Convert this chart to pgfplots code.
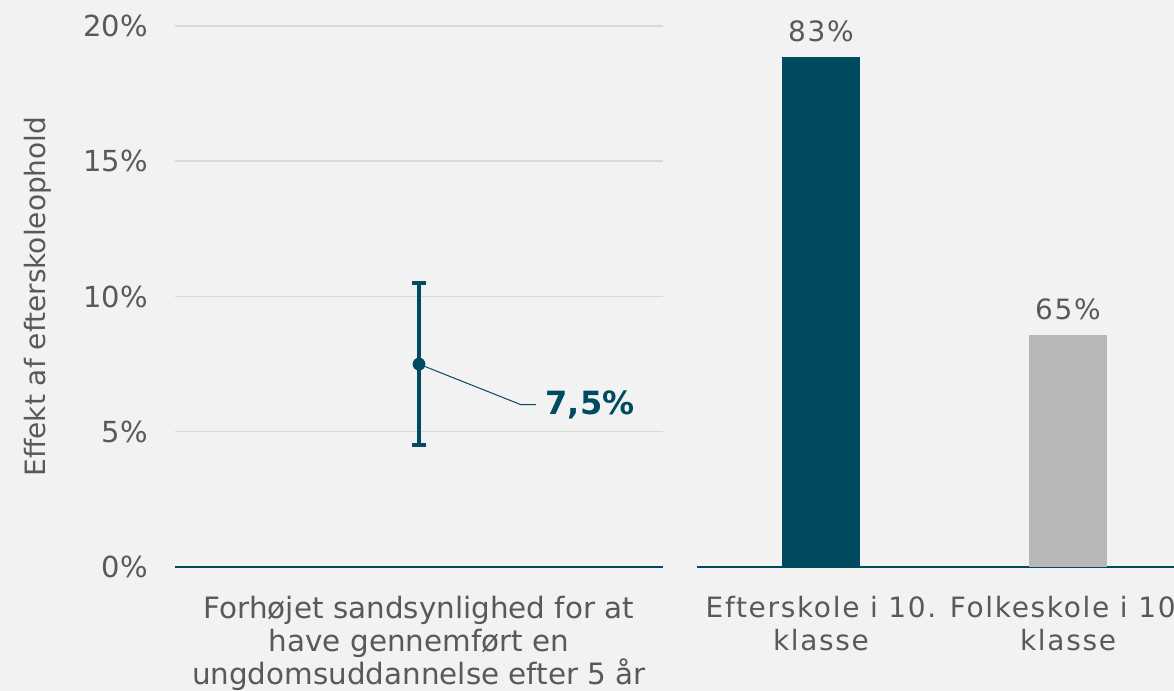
\documentclass[border=0pt]{standalone}
\usepackage{fontspec}
\setmainfont{DejaVu Sans}
\newfontfamily\widefont[LetterSpace=6]{DejaVu Sans}
\usepackage{pgfplots}
\pgfplotsset{compat=1.18}
\definecolor{bg}{HTML}{F2F2F2}
\definecolor{petrol}{HTML}{004B5F}
\definecolor{lgray}{HTML}{B8B8B8}
\definecolor{gridc}{HTML}{D9D9D9}
\definecolor{txt}{HTML}{595959}

\begin{document}
\begin{tikzpicture}
\fill[bg] (0,0) rectangle (587pt,345.5pt);
% left panel: effect with confidence interval
\begin{axis}[
  at={(87.5pt,62pt)}, anchor=south west, scale only axis,
  width=244pt, height=270.5pt,
  xmin=-1, xmax=1, ymin=0, ymax=20,
  axis x line*=bottom, axis y line*=left,
  x axis line style={petrol, line width=1pt, -},
  y axis line style={draw=none},
  major tick length=0pt,
  ymajorgrids, grid style={gridc, line width=0.75pt},
  ytick={0,5,10,15,20}, yticklabels={0\%,5\%,10\%,15\%,20\%},
  yticklabel style={font=\fontsize{14.5}{16}\selectfont, text=txt, xshift=-10pt},
  xtick={0},
  xticklabels={Forhøjet sandsynlighed for at\\have gennemført en\\ungdomsuddannelse efter 5 år},
  xticklabel style={align=center, font=\fontsize{14.7}{16.5}\selectfont, text=txt, yshift=-11pt},
  ylabel={Effekt af efterskoleophold},
  ylabel style={at={(axis description cs:-0.281,0.5)}, anchor=center, font=\fontsize{14}{16}\selectfont, text=txt},
  /pgf/number format/assume math mode=true,
  clip=false,
]
\addplot[petrol, line width=0.5pt] coordinates {(0,7.5) (0.418,6.0) (0.48,6.0)};
\addplot[petrol, only marks, mark=*, mark size=3pt,
  error bars/.cd, y dir=both, y explicit,
  error bar style={line width=2pt, petrol},
  error mark options={rotate=90, mark size=3.5pt, line width=2pt, petrol}]
  coordinates {(0,7.5) +- (0,3)};
\node[anchor=west, text=petrol, font=\bfseries\fontsize{16}{18}\selectfont] at (axis cs:0.49,6.0) {7,5\%};
\end{axis}
% right panel: share completed
\begin{axis}[
  at={(348.5pt,62pt)}, anchor=south west, scale only axis,
  width=238.5pt, height=270.5pt,
  xmin=-0.502, xmax=1.429, ymin=50, ymax=85,
  axis x line*=bottom, axis y line=none,
  x axis line style={petrol, line width=1pt, -},
  major tick length=0pt,
  ybar, bar width=39pt, bar shift=0pt,
  ytick=\empty,
  xtick={0,1},
  xticklabels={Efterskole i 10.\\klasse, Folkeskole i 10.\\klasse},
  xticklabel style={align=center, font=\widefont\fontsize{14}{16.5}\selectfont, text=txt, yshift=-11pt},
  nodes near coords={\pgfmathprintnumber{\pgfplotspointmeta}\%},
  nodes near coords style={font=\widefont\fontsize{14}{16}\selectfont, text=txt, yshift=4pt},
  /pgf/number format/assume math mode=true,
]
\addplot[fill=petrol, draw=none] coordinates {(0,83)};
\addplot[fill=lgray, draw=none] coordinates {(1,65)};
\end{axis}
\pgfresetboundingbox
\useasboundingbox (0,0) rectangle (587pt,345.5pt);
\end{tikzpicture}
\end{document}
